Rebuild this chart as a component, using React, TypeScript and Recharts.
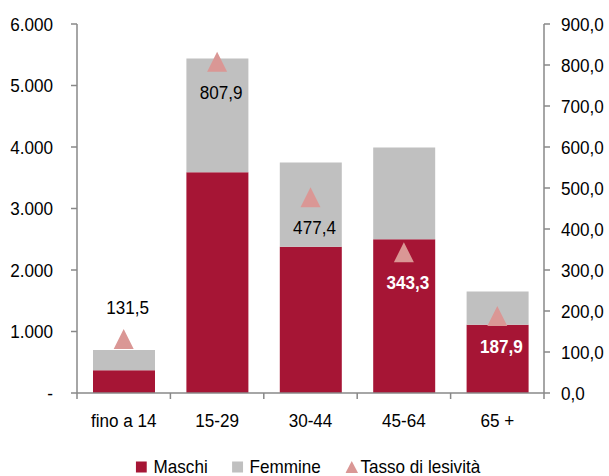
import React from "react";
import { Bar, ComposedChart, LabelList, Legend, Line, XAxis, YAxis } from "recharts";

// fasce d'età
const categories = ["fino a 14", "15-29", "30-44", "45-64", "65 +"];
const maschi = [370, 3590, 2380, 2500, 1110];
const femmine = [330, 1850, 1370, 1490, 540];
const tasso = [131.5, 807.9, 477.4, 343.3, 187.9];

const leftTicks = [0, 1000, 2000, 3000, 4000, 5000, 6000];
const rightTicks = [0, 100, 200, 300, 400, 500, 600, 700, 800, 900];
const legendOrder = ["Maschi", "Femmine", "Tasso di lesività"];

const data = categories.map((name, i) => ({
	name,
	maschi: maschi[i],
	femmine: femmine[i],
	tasso: tasso[i],
}));

const FONT = '"Liberation Sans", Arial, sans-serif';
const FS = 19;
const SX = 0.9; // the original font is a little narrower
const RED = "#A61535";
const GREY = "#C0C0C0";
const PINK = "#DA9795";
const AXIS = "#888888";

const fmtLeft = (v: number) => (v === 0 ? "-" : v.toLocaleString("de-DE"));
const fmtRight = (v: number) => v.toFixed(1).replace(".", ",");

const NText = ({ x, y, anchor = "middle", fill = "#000", bold = false, children }: any) => (
	<text
		transform={`translate(${x} ${y}) scale(${SX} 1)`}
		textAnchor={anchor}
		dy="0.355em"
		fill={fill}
		fontWeight={bold ? "bold" : "normal"}
		fontFamily={FONT}
		fontSize={FS}
	>
		{children}
	</text>
);

const XTick = (props: any) => {
	const { x, y, payload, index, width, visibleTicksCount } = props;
	const band = width && visibleTicksCount ? width / visibleTicksCount : 93.4;
	return (
		<g>
			<line x1={x - band / 2} y1={y} x2={x - band / 2} y2={y + 6} stroke={AXIS} strokeWidth={1.5} />
			{index === visibleTicksCount - 1 && (
				<line x1={x + band / 2} y1={y} x2={x + band / 2} y2={y + 6} stroke={AXIS} strokeWidth={1.5} />
			)}
			<NText x={x} y={y + 27}>{payload.value}</NText>
		</g>
	);
};

const YTickLeft = (props: any) => (
	<NText x={props.x} y={props.y} anchor="end">{fmtLeft(props.payload.value)}</NText>
);

const YTickRight = (props: any) => (
	<NText x={props.x} y={props.y} anchor="start">{fmtRight(props.payload.value)}</NText>
);

const Triangle = (props: any) => {
	const { cx, cy } = props;
	if (cx == null || cy == null) return null;
	return <polygon points={`${cx},${cy - 10} ${cx - 10},${cy + 10} ${cx + 10},${cy + 10}`} fill={PINK} />;
};

const TassoLabel = (props: any) => {
	const { x, y, value, index } = props;
	const above = index === 0;
	const onRed = index >= 3;
	return (
		<NText x={x + 4} y={above ? y - 32 : y + 30} fill={onRed ? "#fff" : "#000"} bold={onRed}>
			{fmtRight(value)}
		</NText>
	);
};

const LegendContent = (props: any) => {
	const items = [...(props.payload || [])].sort(
		(a: any, b: any) => legendOrder.indexOf(a.value) - legendOrder.indexOf(b.value)
	);
	return (
		<div
			style={{
				display: "flex",
				justifyContent: "center",
				alignItems: "center",
				fontFamily: FONT,
				fontSize: FS,
				lineHeight: "22px",
				color: "#000",
				paddingTop: 8,
				paddingLeft: 8,
				transform: `scaleX(${SX})`,
			}}
		>
			{items.map((p: any, i: number) => (
				<span
					key={p.value}
					style={{ display: "flex", alignItems: "center", marginLeft: i === 0 ? 0 : 27 }}
				>
					<svg width={14} height={12} style={{ marginRight: p.type === "triangle" ? 3 : 5.5 }}>
						{p.type === "triangle" ? (
							<polygon points="7,0 0,12 14,12" fill={PINK} />
						) : (
							<rect x={0} y={0.5} width={12.2} height={11} fill={p.color} />
						)}
					</svg>
					{p.value}
				</span>
			))}
		</div>
	);
};

export default function App() {
	return (
		<div style={{ position: "absolute", left: 0, top: 0 }}>
			<ComposedChart
				width={609}
				height={476}
				data={data}
				margin={{ top: 24, right: 0, bottom: 0, left: 0 }}
			>
				<XAxis
					dataKey="name"
					xAxisId="x"
					height={55}
					tickSize={0}
					tickMargin={0}
					tickLine={false}
					axisLine={{ stroke: AXIS, strokeWidth: 1.5 }}
					tick={<XTick />}
					interval={0}
				/>
				<YAxis
					yAxisId="l"
					orientation="left"
					width={77}
					domain={[0, 6000]}
					ticks={leftTicks}
					tickSize={6}
					tickMargin={18}
					axisLine={{ stroke: AXIS, strokeWidth: 1.5 }}
					tickLine={{ stroke: AXIS, strokeWidth: 1.5 }}
					tick={<YTickLeft />}
					interval={0}
				/>
				<YAxis
					yAxisId="r"
					orientation="right"
					width={65}
					domain={[0, 900]}
					ticks={rightTicks}
					tickSize={6}
					tickMargin={11}
					axisLine={{ stroke: AXIS, strokeWidth: 1.5 }}
					tickLine={{ stroke: AXIS, strokeWidth: 1.5 }}
					tick={<YTickRight />}
					interval={0}
				/>
				<Bar dataKey="maschi" name="Maschi" stackId="a" xAxisId="x" yAxisId="l" fill={RED} barSize={62} isAnimationActive={false} />
				<Bar dataKey="femmine" name="Femmine" stackId="a" xAxisId="x" yAxisId="l" fill={GREY} barSize={62} isAnimationActive={false} />
				<Line
					dataKey="tasso"
					name="Tasso di lesività"
					xAxisId="x"
					yAxisId="r"
					stroke="none"
					legendType="triangle"
					dot={<Triangle />}
					activeDot={false}
					isAnimationActive={false}
				>
					<LabelList dataKey="tasso" content={<TassoLabel />} />
				</Line>
				<Legend verticalAlign="bottom" height={28} content={<LegendContent />} />
			</ComposedChart>
		</div>
	);
}
